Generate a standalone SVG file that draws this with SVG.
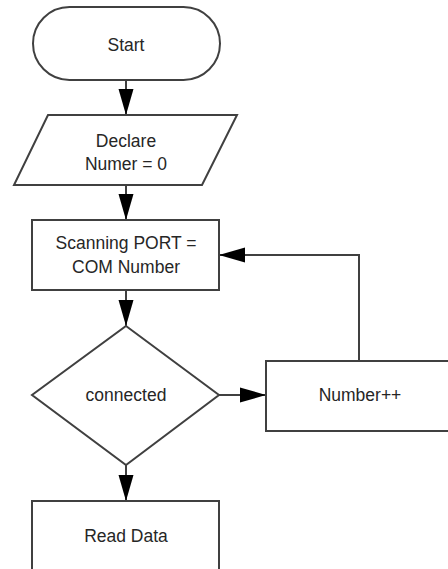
<svg xmlns="http://www.w3.org/2000/svg" width="448" height="569" viewBox="0 0 448 569">
<style>
.shape{fill:#ffffff;stroke:#404040;stroke-width:2}
.conn{fill:none;stroke:#404040;stroke-width:2}
.lbl{font-family:"Liberation Sans",Arial,sans-serif;font-size:17.5px;fill:#262626;text-anchor:middle}
</style>
<defs>
<marker id="ah" viewBox="0 0 26 16" refX="26" refY="8" markerWidth="26" markerHeight="16" markerUnits="userSpaceOnUse" orient="auto">
<path d="M0,0.5 L26,8 L0,15.5 Z" fill="#000000"/>
</marker>
</defs>
<rect width="448" height="569" fill="#ffffff"/>
<g id="connectors">
<line class="conn" x1="126" y1="80" x2="126" y2="115" marker-end="url(#ah)"/>
<line class="conn" x1="126" y1="185" x2="126" y2="220" marker-end="url(#ah)"/>
<line class="conn" x1="126" y1="290" x2="126" y2="326" marker-end="url(#ah)"/>
<line class="conn" x1="219" y1="395" x2="266" y2="395" marker-end="url(#ah)"/>
<polyline class="conn" points="359,361 359,255 219,255" marker-end="url(#ah)"/>
<line class="conn" x1="126" y1="465" x2="126" y2="501" marker-end="url(#ah)"/>
</g>
<g id="start">
<rect class="shape" x="33" y="7" width="187" height="73" rx="36.5" ry="36.5"/>
<text class="lbl" x="126" y="51">Start</text>
</g>
<g id="declare">
<polygon class="shape" points="48,115 237,115 202,185 14,185"/>
<text class="lbl" x="126" y="147">Declare</text>
<text class="lbl" x="126" y="170">Numer = 0</text>
</g>
<g id="scanning">
<rect class="shape" x="32" y="220" width="187" height="70"/>
<text class="lbl" x="126" y="249">Scanning PORT =</text>
<text class="lbl" x="126" y="273">COM Number</text>
</g>
<g id="connected">
<polygon class="shape" points="126,326 219,395 126,465 32,395"/>
<text class="lbl" x="126" y="401">connected</text>
</g>
<g id="number">
<rect class="shape" x="266" y="361" width="188" height="70"/>
<text class="lbl" x="360" y="401">Number++</text>
</g>
<g id="read">
<rect class="shape" x="32" y="501" width="187" height="80"/>
<text class="lbl" x="126" y="542">Read Data</text>
</g>
</svg>
